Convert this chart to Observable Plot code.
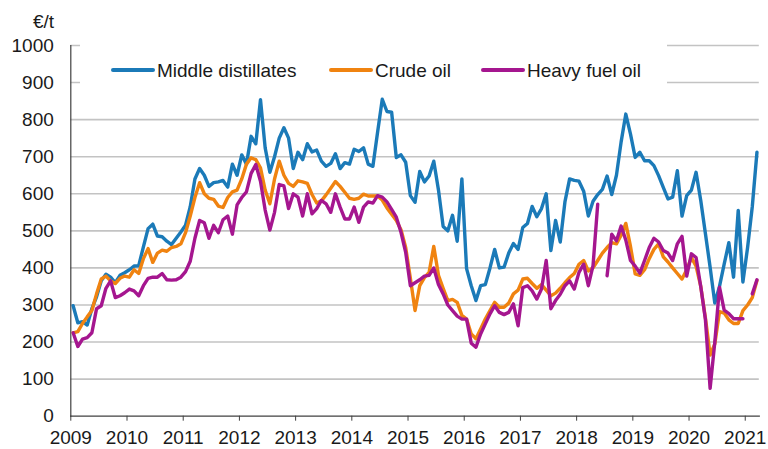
<!DOCTYPE html>
<html>
<head>
<meta charset="utf-8">
<script src="https://cdn.jsdelivr.net/npm/d3@7"></script>
<script src="https://cdn.jsdelivr.net/npm/@observablehq/plot@0.6"></script>
<style>
  html, body { margin: 0; padding: 0; background: #fff; }
  #wrap { position: relative; width: 768px; height: 449px; font-family: "Liberation Sans", Arial, sans-serif; color: #1a1a1a; }
  #wrap svg { position: absolute; left: 0; top: 0; }
  .unit { position: absolute; left: 33px; top: 12px; font-size: 19px; line-height: 19px; }
  .legend { position: absolute; left: 80px; top: 40px; width: 587px; height: 46px; background: #fff; }
  .key { position: absolute; height: 4px; border-radius: 2px; }
  .lab { position: absolute; font-size: 19px; line-height: 19px; white-space: nowrap; }
</style>
</head>
<body>
<div id="wrap"></div>
<script>
// ---- data (monthly, Jan 2009 – Mar 2021), €/t ----
const startYear = 2009;
const years = [2009, 2010, 2011, 2012, 2013, 2014, 2015, 2016, 2017, 2018, 2019, 2020, 2021];
const yTicks = [0, 100, 200, 300, 400, 500, 600, 700, 800, 900, 1000];
const seriesNames = ["Middle distillates", "Crude oil", "Heavy fuel oil"];
const seriesColors = ["#1b7ab8", "#f08310", "#a5168f"];

const middleDistillates = [
  298, 252, 255, 246, 290, 322, 365, 383, 375, 360, 380, 387,
  395, 405, 406, 457, 506, 518, 486, 484, 472, 463, 480, 497,
  515, 565, 640, 668, 650, 620, 630, 632, 636, 618, 680, 650,
  705, 680, 755, 735, 854, 724, 658, 700, 750, 778, 750, 668,
  712, 692, 735, 713, 718, 688, 674, 682, 708, 668, 684, 680,
  720, 714, 724, 680, 674, 766, 855, 822, 820, 698, 705, 685,
  595, 577, 660, 632, 648, 688, 610, 512, 500, 542, 472, 640,
  398, 352, 312, 352, 355, 400, 450, 400, 402, 440, 466, 450,
  509, 520, 566, 538, 560, 600, 447, 528, 470, 578, 640, 636,
  634, 607, 540, 580, 598, 612, 648, 598, 650, 740, 815, 761,
  698, 712, 689, 689, 676, 649, 617, 586, 591, 662, 540, 595,
  610, 658, 582, 492, 402, 305, 350, 410, 468, 375, 555, 362,
  455, 565, 712
];
const crudeOil = [
  225, 228, 250, 268, 285, 330, 370, 378, 365, 358, 372, 378,
  375, 395, 385, 425, 452, 415, 440, 448, 445, 455, 458, 465,
  495, 540, 590, 630, 600, 588, 585, 567, 563, 590, 605, 610,
  640, 680, 697, 692, 670, 610, 573, 640, 688, 650, 628, 620,
  635, 632, 628, 598, 575, 581, 597, 615, 633, 620, 604, 588,
  585, 588, 599, 594, 594, 594, 583, 562, 545, 528, 503, 455,
  372, 285, 352, 374, 388, 458, 380, 345, 312, 315, 307, 272,
  262, 222, 209, 235, 262, 285, 307, 294, 294, 305, 330, 340,
  370, 372, 358, 345, 355, 340, 325, 332, 345, 360, 374, 385,
  410, 420, 392, 400, 420, 440, 455, 468, 465, 488, 520, 458,
  384, 380, 395, 425, 450, 465, 430, 416, 400, 385, 370, 395,
  428, 405, 350, 265, 165, 195, 282, 278, 260, 250, 250, 285,
  300, 320, 366
];
const heavyFuelOil = [
  225, 188, 208, 212, 225, 290, 298, 345, 365, 320, 325, 333,
  343, 338, 325, 352, 372, 375, 375, 385, 368, 367, 368, 375,
  390, 418, 480, 528, 522, 480, 515, 495, 530, 540, 491, 570,
  590, 605, 655, 679, 634, 556, 502, 550, 625, 621, 560, 600,
  591, 540, 600, 546, 560, 582, 573, 550, 600, 564, 532, 532,
  564, 523, 564, 578, 575, 595, 591, 578, 558, 537, 496, 442,
  352, 360, 368, 378, 380, 400, 355, 330, 300, 285, 270, 262,
  262, 197, 186, 222, 249, 276, 298, 280, 274, 280, 303, 244,
  347, 352, 338, 316, 343, 420, 290, 312, 329, 352, 365, 343,
  388, 410, 352, 406, 572, null, 379, 491, 473, 513, 475, 420,
  405, 386, 420, 455, 480, 470, 447, 440, 420, 465, 485, 378,
  438, 428, 350, 260, 75, 200, 348, 286, 277, 263, 263, 263,
  null, 330, 368
];

const seriesValues = [middleDistillates, crudeOil, heavyFuelOil];
const rows = [];
seriesValues.forEach((vals, s) => {
  vals.forEach((v, i) => rows.push({series: seriesNames[s], t: startYear + (i + 0.5) / 12, v}));
});

const chart = Plot.plot({
  width: 768,
  height: 449,
  marginTop: 45,
  marginBottom: 33.3,
  marginLeft: 70.3,
  marginRight: 9.2,
  style: {fontFamily: "'Liberation Sans', Arial, sans-serif", fontSize: "19px", color: "#1a1a1a", background: "#fff"},
  x: {domain: [2009, 2021.25], axis: null, label: null},
  y: {domain: [0, 1000], axis: null, label: null},
  color: {domain: seriesNames, range: seriesColors},
  marks: [
    Plot.ruleY(yTicks.filter(d => d > 0), {stroke: "#c3c3c3", strokeWidth: 1.6}),
    Plot.axisY({ticks: yTicks, tickSize: 0, tickPadding: 17, tickFormat: d => String(d), fontSize: 19, fill: "#1a1a1a", label: null}),
    Plot.axisX({ticks: years, tickSize: 5, tickPadding: 9, tickFormat: d => String(d), fontSize: 19, stroke: "#404040", fill: "#1a1a1a", label: null}),
    Plot.frame({anchor: "left", stroke: "#404040", strokeWidth: 1.2}),
    Plot.frame({anchor: "bottom", stroke: "#404040", strokeWidth: 1.2}),
    Plot.line(rows, {x: "t", y: "v", z: "series", stroke: "series", strokeWidth: 3.4, strokeLinejoin: "round", strokeLinecap: "round"})
  ]
});

// condensed face for the year labels, as in the reference
d3.select(chart).selectAll('[aria-label="x-axis tick label"] text').attr("font-family", "'Liberation Sans Narrow', 'Arial Narrow', 'Liberation Sans', sans-serif");

const wrap = document.getElementById("wrap");
wrap.appendChild(chart);

const unit = document.createElement("div");
unit.className = "unit";
unit.textContent = "€/t";
wrap.appendChild(unit);

const legend = document.createElement("div");
legend.className = "legend";
wrap.appendChild(legend);
const keyLeft = [31, 249, 401];   // relative to legend box
seriesNames.forEach((name, i) => {
  const k = document.createElement("div");
  k.className = "key";
  k.style.left = keyLeft[i] + "px";
  k.style.top = "28px";
  k.style.width = "44px";
  k.style.background = seriesColors[i];
  legend.appendChild(k);
  const l = document.createElement("div");
  l.className = "lab";
  l.style.left = (keyLeft[i] + 46) + "px";
  l.style.top = "21px";
  l.textContent = name;
  legend.appendChild(l);
});
</script>
</body>
</html>
